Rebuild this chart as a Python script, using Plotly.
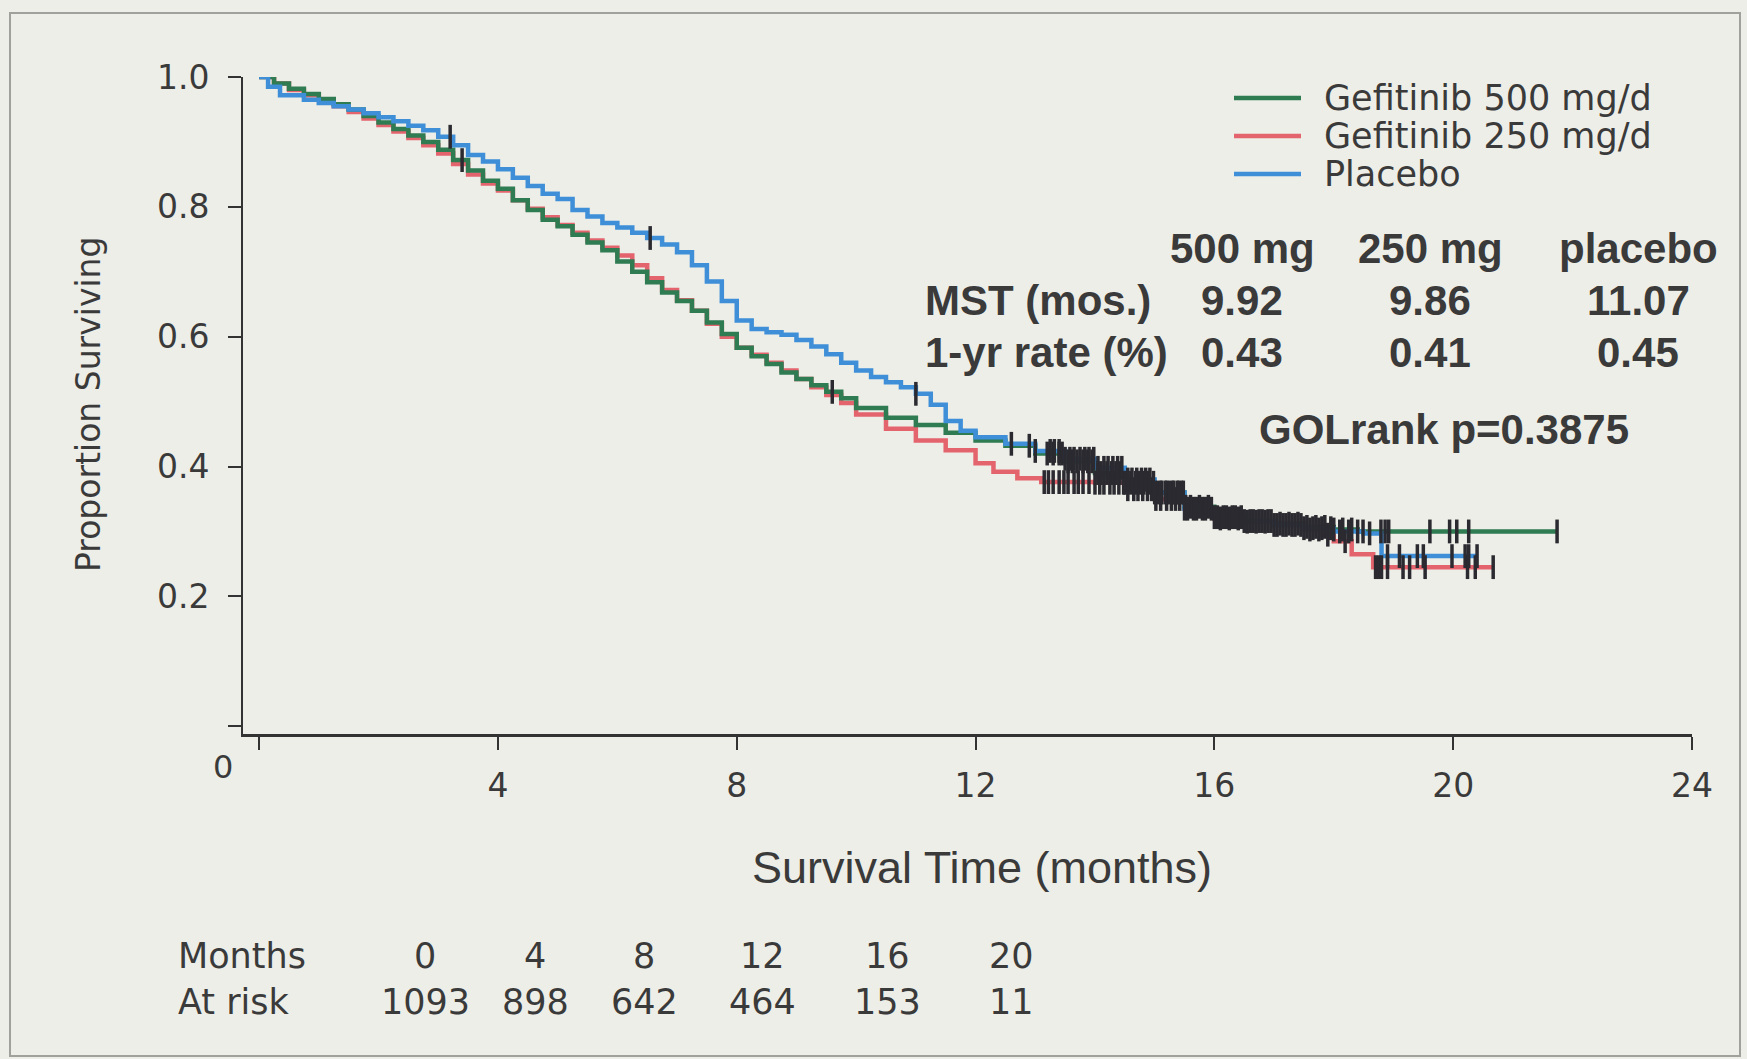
import numpy as np
import plotly.graph_objects as go

# ---------------- data ----------------
series_names = ["Gefitinib 500 mg/d", "Gefitinib 250 mg/d", "Placebo"]

g500_t = [0, 0.25, 0.5, 0.75, 1.0, 1.25, 1.5, 1.75, 2.0, 2.25, 2.5, 2.75, 3.0, 3.25, 3.5, 3.75,
          4.0, 4.25, 4.5, 4.75, 5.0, 5.25, 5.5, 5.75, 6.0, 6.25, 6.5, 6.75, 7.0, 7.25, 7.5, 7.75,
          8.0, 8.25, 8.5, 8.75, 9.0, 9.25, 9.5, 9.75, 10.0, 10.5, 11.0, 11.5, 12.0, 12.5, 13.0,
          13.5, 14.0, 14.5, 15.0, 15.5, 16.0, 16.5, 17.0, 17.5, 18.0, 18.4, 21.74]
g500_s = [1.0, 0.99, 0.982, 0.974, 0.966, 0.958, 0.95, 0.94, 0.93, 0.92, 0.91, 0.9, 0.888, 0.872, 0.856, 0.84,
          0.828, 0.81, 0.795, 0.78, 0.77, 0.757, 0.745, 0.733, 0.716, 0.7, 0.684, 0.668, 0.655, 0.64, 0.622, 0.604,
          0.583, 0.57, 0.558, 0.545, 0.535, 0.525, 0.515, 0.505, 0.49, 0.475, 0.464, 0.452, 0.44, 0.432, 0.42,
          0.408, 0.39, 0.375, 0.36, 0.338, 0.322, 0.316, 0.312, 0.307, 0.303, 0.30, 0.30]

g250_t = [0, 0.25, 0.5, 0.75, 1.0, 1.25, 1.5, 1.75, 2.0, 2.25, 2.5, 2.75, 3.0, 3.25, 3.5, 3.75,
          4.0, 4.25, 4.5, 4.75, 5.0, 5.25, 5.5, 5.75, 6.0, 6.25, 6.5, 6.75, 7.0, 7.25, 7.5, 7.75,
          8.0, 8.25, 8.5, 8.75, 9.0, 9.25, 9.5, 9.75, 10.0, 10.5, 11.0, 11.5, 12.0, 12.3, 12.7, 13.1,
          14.0, 14.5, 15.0, 15.5, 16.0, 16.5, 17.0, 17.5, 17.8, 18.0, 18.3, 18.66, 20.67]
g250_s = [1.0, 0.99, 0.98, 0.972, 0.964, 0.955, 0.946, 0.936, 0.926, 0.916, 0.906, 0.895, 0.882, 0.866, 0.85, 0.836,
          0.825, 0.81, 0.797, 0.784, 0.772, 0.76, 0.748, 0.737, 0.725, 0.71, 0.69, 0.672, 0.656, 0.64, 0.62, 0.6,
          0.583, 0.572, 0.56, 0.548, 0.535, 0.522, 0.51, 0.498, 0.48, 0.458, 0.44, 0.425, 0.405, 0.392, 0.382, 0.376,
          0.375, 0.365, 0.35, 0.335, 0.32, 0.315, 0.31, 0.303, 0.295, 0.285, 0.265, 0.245, 0.245]

plac_t = [0, 0.15, 0.35, 0.75, 1.0, 1.25, 1.5, 1.75, 2.0, 2.25, 2.5, 2.75, 3.0, 3.25, 3.5, 3.75,
          4.0, 4.25, 4.5, 4.75, 5.0, 5.25, 5.5, 5.75, 6.0, 6.25, 6.5, 6.75, 7.0, 7.25, 7.5, 7.75,
          8.0, 8.25, 8.5, 8.75, 9.0, 9.25, 9.5, 9.75, 10.0, 10.25, 10.5, 10.75, 11.0, 11.25, 11.5, 11.75,
          12.0, 12.5, 13.0, 13.5, 14.0, 14.5, 15.0, 15.5, 16.0, 16.5, 17.0, 17.5, 18.0, 18.5, 18.8, 20.4]
plac_s = [1.0, 0.985, 0.972, 0.965, 0.96, 0.955, 0.95, 0.944, 0.938, 0.932, 0.925, 0.918, 0.908, 0.895, 0.88, 0.87,
          0.858, 0.845, 0.832, 0.82, 0.812, 0.795, 0.785, 0.775, 0.768, 0.76, 0.752, 0.742, 0.73, 0.71, 0.685, 0.655,
          0.625, 0.612, 0.607, 0.603, 0.595, 0.585, 0.573, 0.56, 0.548, 0.538, 0.53, 0.522, 0.512, 0.495, 0.47, 0.455,
          0.445, 0.435, 0.424, 0.412, 0.398, 0.38, 0.36, 0.335, 0.322, 0.316, 0.31, 0.305, 0.3, 0.297, 0.262, 0.262]

g500_cens = [3.4, 9.6, 12.9, 13.2, 13.3, 13.4, 13.45, 13.55, 13.62, 13.7, 13.8, 13.88, 13.95, 14.05, 14.1,
             14.2, 14.28, 14.35, 14.42, 14.5, 14.6, 14.68, 14.75, 14.82, 14.9, 14.98, 15.05, 15.12, 15.2,
             15.3, 15.38, 15.45, 15.52, 15.6, 15.75, 15.9, 16.05, 16.2, 16.35, 16.5, 16.65, 16.8, 16.95,
             17.1, 17.25, 17.4, 17.55, 17.7, 17.85, 18.0, 18.15, 18.3, 18.49, 18.79, 18.86, 18.92, 19.61,
             19.94, 20.06, 20.26, 21.74]
g250_cens = [13.15, 13.22, 13.3, 13.4, 13.48, 13.55, 13.65, 13.72, 13.8, 13.9, 14.0, 14.08, 14.15, 14.25,
             14.32, 14.4, 14.48, 14.55, 14.65, 14.72, 14.8, 14.88, 14.95, 15.02, 15.1, 15.2, 15.28, 15.35,
             15.42, 15.5, 15.65, 15.8, 15.95, 16.1, 16.25, 16.4, 16.55, 16.7, 16.85, 17.0, 17.15, 17.3,
             17.45, 17.6, 17.75, 17.9, 18.19, 18.7, 18.75, 18.8, 18.9, 19.16, 19.27, 19.53, 20.24, 20.37,
             20.67]
plac_cens = [3.2, 6.55, 11.0, 12.6, 13.0, 13.25, 13.32, 13.4, 13.5, 13.58, 13.65, 13.75, 13.83, 13.9, 13.98,
             14.05, 14.15, 14.22, 14.3, 14.38, 14.45, 14.55, 14.62, 14.7, 14.78, 14.85, 14.92, 15.0, 15.1,
             15.18, 15.25, 15.32, 15.4, 15.48, 15.55, 15.7, 15.85, 16.0, 16.15, 16.3, 16.45, 16.6, 16.75,
             16.9, 17.05, 17.2, 17.35, 17.5, 17.65, 17.8, 17.95, 18.1, 18.25, 18.4, 18.6, 18.9, 19.1, 19.4,
             19.5, 19.98, 20.2, 20.26, 20.4]

stat_cols = ["500 mg", "250 mg", "placebo"]
stat_rows = ["MST (mos.)", "1-yr rate (%)"]
mst_vals = ["9.92", "9.86", "11.07"]
yr1_vals = ["0.43", "0.41", "0.45"]
p_text = "GOLrank p=0.3875"

risk_months = [0, 4, 8, 12, 16, 20]
risk_counts = [1093, 898, 642, 464, 153, 11]

x_ticks = [0, 4, 8, 12, 16, 20, 24]
y_ticks = [0, 0.2, 0.4, 0.6, 0.8, 1.0]

# ---------------- styling ----------------
colors = ["#2f7b52", "#e4646e", "#3e8fd8"]
cens_color = "#2a2a30"
txt = "#3a3a3a"
bg = "#eeeee8"
HUM = "DejaVu Sans"
ARI = "Liberation Sans"

W_FIG, H_FIG = 1747, 1059
L, R, T, B = 243, 1692, 77, 734
PW, PH = R - L, B - T


def px(x):
    return (x - L) / PW


def py(y):
    return (B - y) / PH


def step_value(ts, ss, t):
    i = np.searchsorted(np.array(ts), t, side="right") - 1
    return ss[max(i, 0)]


fig = go.Figure()

curves = [(g250_t, g250_s, g250_cens, 1), (g500_t, g500_s, g500_cens, 0), (plac_t, plac_s, plac_cens, 2)]
for ts, ss, cs, k in curves:
    fig.add_trace(go.Scatter(x=ts, y=ss, mode="lines", line=dict(color=colors[k], width=4.5, shape="hv"),
                             name=series_names[k], showlegend=False, hoverinfo="skip"))
for ts, ss, cs, k in curves:
    cy = [step_value(ts, ss, c) for c in cs]
    fig.add_trace(go.Scatter(x=cs, y=cy, mode="markers",
                             marker=dict(symbol="line-ns", size=17, line=dict(color=cens_color, width=3.5)),
                             showlegend=False, hoverinfo="skip"))

annotations = []
shapes = []

# frame
shapes.append(dict(type="rect", xref="paper", yref="paper", x0=px(10), x1=px(1740), y0=py(1056), y1=py(13),
                   line=dict(color="#a0a09c", width=2), fillcolor="rgba(0,0,0,0)", layer="below"))

# origin label
annotations.append(dict(text="0", x=px(223), y=py(767), xref="paper", yref="paper", showarrow=False,
                        xanchor="center", yanchor="middle", font=dict(family=HUM, size=32, color=txt)))
# axis titles
annotations.append(dict(text="Survival Time (months)", x=px(982), y=py(867), xref="paper", yref="paper",
                        showarrow=False, xanchor="center", yanchor="middle",
                        font=dict(family=ARI, size=45, color=txt)))
annotations.append(dict(text="Proportion Surviving", x=px(88), y=py(405), xref="paper", yref="paper",
                        showarrow=False, xanchor="center", yanchor="middle", textangle=-90,
                        font=dict(family=HUM, size=33, color=txt)))

# legend
leg_y = [98, 136, 174]
for k in range(3):
    shapes.append(dict(type="line", xref="paper", yref="paper", x0=px(1234), x1=px(1301),
                       y0=py(leg_y[k]), y1=py(leg_y[k]), line=dict(color=colors[k], width=4.5)))
    annotations.append(dict(text=series_names[k], x=px(1322), y=py(leg_y[k]), xref="paper", yref="paper",
                            showarrow=False, xanchor="left", yanchor="middle",
                            font=dict(family=HUM, size=35, color=txt)))

# stats table
col_x = [1242, 1430, 1638]
SF = dict(family=ARI, size=42, color=txt, weight="bold")
for j in range(3):
    annotations.append(dict(text=stat_cols[j], x=px(col_x[j]), y=py(248), xref="paper", yref="paper",
                            showarrow=False, xanchor="center", yanchor="middle", font=SF))
    annotations.append(dict(text=mst_vals[j], x=px(col_x[j]), y=py(300), xref="paper", yref="paper",
                            showarrow=False, xanchor="center", yanchor="middle", font=SF))
    annotations.append(dict(text=yr1_vals[j], x=px(col_x[j]), y=py(352), xref="paper", yref="paper",
                            showarrow=False, xanchor="center", yanchor="middle", font=SF))
for i, ry in enumerate([300, 352]):
    annotations.append(dict(text=stat_rows[i], x=px(923), y=py(ry), xref="paper", yref="paper",
                            showarrow=False, xanchor="left", yanchor="middle", font=SF))
annotations.append(dict(text=p_text, x=px(1444), y=py(429), xref="paper", yref="paper",
                        showarrow=False, xanchor="center", yanchor="middle", font=SF))

# at-risk table
risk_x = [425, 535, 644, 762, 887, 1011]
RF = dict(family=HUM, size=35, color=txt)
annotations.append(dict(text="Months", x=px(176), y=py(956), xref="paper", yref="paper", showarrow=False,
                        xanchor="left", yanchor="middle", font=RF))
annotations.append(dict(text="At risk", x=px(176), y=py(1002), xref="paper", yref="paper", showarrow=False,
                        xanchor="left", yanchor="middle", font=RF))
for j in range(len(risk_months)):
    annotations.append(dict(text=str(risk_months[j]), x=px(risk_x[j]), y=py(956), xref="paper", yref="paper",
                            showarrow=False, xanchor="center", yanchor="middle", font=RF))
    annotations.append(dict(text=str(risk_counts[j]), x=px(risk_x[j]), y=py(1002), xref="paper", yref="paper",
                            showarrow=False, xanchor="center", yanchor="middle", font=RF))

fig.update_layout(
    width=W_FIG, height=H_FIG,
    margin=dict(l=L, r=W_FIG - R, t=T, b=H_FIG - B, pad=0),
    paper_bgcolor=bg, plot_bgcolor=bg,
    showlegend=False,
    annotations=annotations, shapes=shapes,
    xaxis=dict(range=[-0.27, 24], tickvals=x_ticks, ticktext=[""] + [str(v) for v in x_ticks[1:]],
               showline=True, linecolor="#333333", linewidth=2.5, ticks="outside", ticklen=13, tickwidth=2,
               tickcolor="#333333", showgrid=False, zeroline=False, ticklabelstandoff=8,
               tickfont=dict(family=HUM, size=33, color=txt), fixedrange=True),
    yaxis=dict(range=[-0.012, 1.0], tickvals=y_ticks, ticktext=[""] + ["%.1f" % v for v in y_ticks[1:]],
               showline=True, linecolor="#333333", linewidth=2, ticks="outside", ticklen=13, tickwidth=2,
               tickcolor="#333333", showgrid=False, zeroline=False, ticklabelstandoff=12,
               tickfont=dict(family=HUM, size=33, color=txt), fixedrange=True),
)

fig.write_html("out.html", config={"displayModeBar": False},
               post_script="document.body.style.margin='0';document.body.style.overflow='hidden';"
                           "document.body.style.background='%s';" % bg)
